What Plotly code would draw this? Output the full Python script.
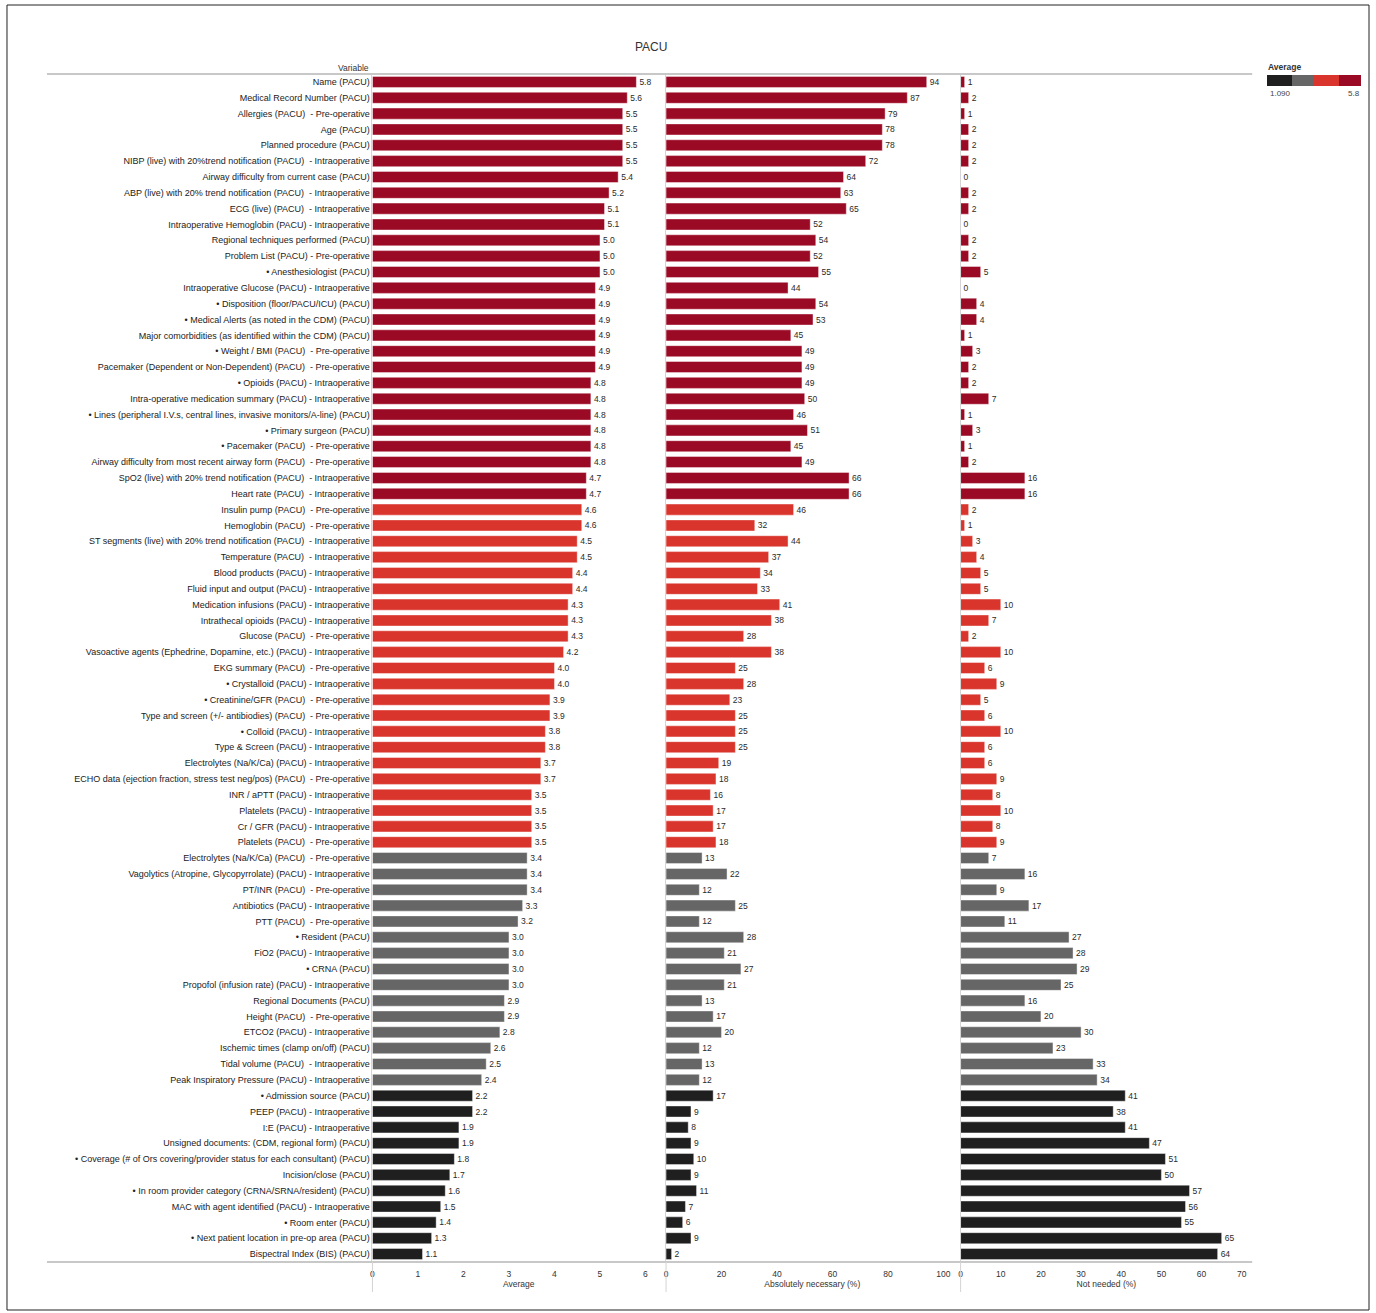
import plotly.graph_objects as go
from plotly.subplots import make_subplots

variables = [
    "Name (PACU)",
    "Medical Record Number (PACU)",
    "Allergies (PACU)  - Pre-operative",
    "Age (PACU)",
    "Planned procedure (PACU)",
    "NIBP (live) with 20%trend notification (PACU)  - Intraoperative",
    "Airway difficulty from current case (PACU)",
    "ABP (live) with 20% trend notification (PACU)  - Intraoperative",
    "ECG (live) (PACU)  - Intraoperative",
    "Intraoperative Hemoglobin (PACU) - Intraoperative",
    "Regional techniques performed (PACU)",
    "Problem List (PACU) - Pre-operative",
    "• Anesthesiologist (PACU)",
    "Intraoperative Glucose (PACU) - Intraoperative",
    "• Disposition (floor/PACU/ICU) (PACU)",
    "• Medical Alerts (as noted in the CDM) (PACU)",
    "Major comorbidities (as identified within the CDM) (PACU)",
    "• Weight / BMI (PACU)  - Pre-operative",
    "Pacemaker (Dependent or Non-Dependent) (PACU)  - Pre-operative",
    "• Opioids (PACU) - Intraoperative",
    "Intra-operative medication summary (PACU) - Intraoperative",
    "• Lines (peripheral I.V.s, central lines, invasive monitors/A-line) (PACU)",
    "• Primary surgeon (PACU)",
    "• Pacemaker (PACU)  - Pre-operative",
    "Airway difficulty from most recent airway form (PACU)  - Pre-operative",
    "SpO2 (live) with 20% trend notification (PACU)  - Intraoperative",
    "Heart rate (PACU)  - Intraoperative",
    "Insulin pump (PACU)  - Pre-operative",
    "Hemoglobin (PACU)  - Pre-operative",
    "ST segments (live) with 20% trend notification (PACU)  - Intraoperative",
    "Temperature (PACU)  - Intraoperative",
    "Blood products (PACU) - Intraoperative",
    "Fluid input and output (PACU) - Intraoperative",
    "Medication infusions (PACU) - Intraoperative",
    "Intrathecal opioids (PACU) - Intraoperative",
    "Glucose (PACU)  - Pre-operative",
    "Vasoactive agents (Ephedrine, Dopamine, etc.) (PACU) - Intraoperative",
    "EKG summary (PACU)  - Pre-operative",
    "• Crystalloid (PACU) - Intraoperative",
    "• Creatinine/GFR (PACU)  - Pre-operative",
    "Type and screen (+/- antibiodies) (PACU)  - Pre-operative",
    "• Colloid (PACU) - Intraoperative",
    "Type & Screen (PACU) - Intraoperative",
    "Electrolytes (Na/K/Ca) (PACU) - Intraoperative",
    "ECHO data (ejection fraction, stress test neg/pos) (PACU)  - Pre-operative",
    "INR / aPTT (PACU) - Intraoperative",
    "Platelets (PACU) - Intraoperative",
    "Cr / GFR (PACU) - Intraoperative",
    "Platelets (PACU)  - Pre-operative",
    "Electrolytes (Na/K/Ca) (PACU)  - Pre-operative",
    "Vagolytics (Atropine, Glycopyrrolate) (PACU) - Intraoperative",
    "PT/INR (PACU)  - Pre-operative",
    "Antibiotics (PACU) - Intraoperative",
    "PTT (PACU)  - Pre-operative",
    "• Resident (PACU)",
    "FiO2 (PACU) - Intraoperative",
    "• CRNA (PACU)",
    "Propofol (infusion rate) (PACU) - Intraoperative",
    "Regional Documents (PACU)",
    "Height (PACU)  - Pre-operative",
    "ETCO2 (PACU) - Intraoperative",
    "Ischemic times (clamp on/off) (PACU)",
    "Tidal volume (PACU)  - Intraoperative",
    "Peak Inspiratory Pressure (PACU) - Intraoperative",
    "• Admission source (PACU)",
    "PEEP (PACU) - Intraoperative",
    "I:E (PACU) - Intraoperative",
    "Unsigned documents: (CDM, regional form) (PACU)",
    "• Coverage (# of Ors covering/provider status for each consultant) (PACU)",
    "Incision/close (PACU)",
    "• In room provider category (CRNA/SRNA/resident) (PACU)",
    "MAC with agent identified (PACU) - Intraoperative",
    "• Room enter (PACU)",
    "• Next patient location in pre-op area (PACU)",
    "Bispectral Index (BIS) (PACU)",
]

average = [5.8, 5.6, 5.5, 5.5, 5.5, 5.5, 5.4, 5.2, 5.1, 5.1,
           5.0, 5.0, 5.0, 4.9, 4.9, 4.9, 4.9, 4.9, 4.9, 4.8,
           4.8, 4.8, 4.8, 4.8, 4.8, 4.7, 4.7, 4.6, 4.6, 4.5,
           4.5, 4.4, 4.4, 4.3, 4.3, 4.3, 4.2, 4.0, 4.0, 3.9,
           3.9, 3.8, 3.8, 3.7, 3.7, 3.5, 3.5, 3.5, 3.5, 3.4,
           3.4, 3.4, 3.3, 3.2, 3.0, 3.0, 3.0, 3.0, 2.9, 2.9,
           2.8, 2.6, 2.5, 2.4, 2.2, 2.2, 1.9, 1.9, 1.8, 1.7,
           1.6, 1.5, 1.4, 1.3, 1.1]

absolutely_necessary = [94, 87, 79, 78, 78, 72, 64, 63, 65, 52,
                        54, 52, 55, 44, 54, 53, 45, 49, 49, 49,
                        50, 46, 51, 45, 49, 66, 66, 46, 32, 44,
                        37, 34, 33, 41, 38, 28, 38, 25, 28, 23,
                        25, 25, 25, 19, 18, 16, 17, 17, 18, 13,
                        22, 12, 25, 12, 28, 21, 27, 21, 13, 17,
                        20, 12, 13, 12, 17, 9, 8, 9, 10, 9,
                        11, 7, 6, 9, 2]

not_needed = [1, 2, 1, 2, 2, 2, 0, 2, 2, 0,
              2, 2, 5, 0, 4, 4, 1, 3, 2, 2,
              7, 1, 3, 1, 2, 16, 16, 2, 1, 3,
              4, 5, 5, 10, 7, 2, 10, 6, 9, 5,
              6, 10, 6, 6, 9, 8, 10, 8, 9, 7,
              16, 9, 17, 11, 27, 28, 29, 25, 16, 20,
              30, 23, 33, 34, 41, 38, 41, 47, 51, 50,
              57, 56, 55, 65, 64]

legend_min = 1.09
legend_max = 5.8
legend_min_text = "1.090"
legend_max_text = "5.8"

step_colors = ["#1f1f1f", "#666666", "#d9352c", "#9b0a25"]
step_breaks = [2.35, 3.47, 4.68]

W, H = 1376, 1313


def px(x):
    return x / W


def py(y):
    return 1 - y / H


span = legend_max - legend_min
b = [(v - legend_min) / span for v in step_breaks]
colorscale = [
    [0, step_colors[0]], [b[0], step_colors[0]],
    [b[0], step_colors[1]], [b[1], step_colors[1]],
    [b[1], step_colors[2]], [b[2], step_colors[2]],
    [b[2], step_colors[3]], [1, step_colors[3]],
]

font_family = "Liberation Sans, Arial, sans-serif"

fig = make_subplots(rows=1, cols=3, shared_yaxes=True, horizontal_spacing=0)

panels = [
    (average, "%{x:.1f}", True),
    (absolutely_necessary, "%{x}", False),
    (not_needed, "%{x}", False),
]
for i, (vals, tmpl, show_scale) in enumerate(panels):
    marker = dict(
        color=average, colorscale=colorscale, cmin=legend_min, cmax=legend_max,
        line=dict(width=0.6, color="rgba(255,255,255,0.7)"),
        showscale=show_scale,
    )
    if show_scale:
        marker["colorbar"] = dict(
            orientation="h", x=px(1267), xanchor="left", y=py(86), yanchor="bottom",
            len=94, lenmode="pixels", thickness=11, thicknessmode="pixels",
            outlinewidth=0, xpad=0, ypad=0, showticklabels=False, ticks="",
        )
    fig.add_trace(go.Bar(
        x=vals, y=variables, orientation="h", marker=marker,
        texttemplate=tmpl, textposition="outside", constraintext="none",
        cliponaxis=False, textfont=dict(size=8.5, color="#2a2a2a", family=font_family),
        hoverinfo="x+y", showlegend=False,
    ), row=1, col=i + 1)

ydom = [py(1262), py(74)]
xdoms = [[px(371), px(664)], [px(665), px(958)], [px(960), px(1252)]]
xranges = [[0, 6.43], [0, 105.5], [0, 72.6]]
xticks = [[0, 1, 2, 3, 4, 5, 6], [0, 20, 40, 60, 80, 100], [0, 10, 20, 30, 40, 50, 60, 70]]
xtitles = ["Average", "Absolutely necessary (%)", "Not needed (%)"]

for i in range(3):
    ax = "xaxis" if i == 0 else f"xaxis{i + 1}"
    ay = "yaxis" if i == 0 else f"yaxis{i + 1}"
    fig.layout[ax].update(
        domain=xdoms[i], range=xranges[i], tickvals=xticks[i], showgrid=False,
        zeroline=False, showline=False, ticks="", ticklabelstandoff=5,
        tickfont=dict(size=8.5, color="#333333", family=font_family),
        title=dict(text=xtitles[i], font=dict(size=8.5, color="#333333", family=font_family), standoff=3),
    )
    fig.layout[ay].update(
        domain=ydom, showgrid=False, zeroline=False, showline=True,
        linecolor="#d4d4d4", linewidth=1, ticks="",
        categoryorder="array", categoryarray=variables, autorange="reversed",
        showticklabels=(i == 0),
        tickfont=dict(size=9, color="#222222", family=font_family),
    )

shapes = [
    dict(type="rect", xref="paper", yref="paper", x0=px(5), x1=px(1369), y0=py(1310), y1=py(5),
         line=dict(color="#222222", width=1)),
    dict(type="line", xref="paper", yref="paper", x0=px(45), x1=px(1252), y0=py(74), y1=py(74),
         line=dict(color="#c8c8c8", width=2)),
    dict(type="line", xref="paper", yref="paper", x0=px(45), x1=px(1252), y0=py(1262), y1=py(1262),
         line=dict(color="#c8c8c8", width=2)),
]
for xv in [371, 665, 960]:
    shapes.append(dict(type="line", xref="paper", yref="paper", x0=px(xv), x1=px(xv),
                       y0=py(1292), y1=py(1262), line=dict(color="#d4d4d4", width=1)))


def note(text, x, y, xanchor="center", size=8.5, color="#333333"):
    return dict(text=text, x=px(x), y=py(y), xref="paper", yref="paper", showarrow=False,
                xanchor=xanchor, yanchor="middle",
                font=dict(size=size, color=color, family=font_family))


annotations = [
    note("PACU", 650, 47, size=12),
    note("Variable", 370, 68, xanchor="right"),
    note("<b>Average</b>", 1266, 67, xanchor="left"),
    note(legend_min_text, 1268, 93, xanchor="left", size=8, color="#444444"),
    note(legend_max_text, 1362, 93, xanchor="right", size=8, color="#444444"),
]

fig.update_layout(
    width=W, height=H, margin=dict(l=0, r=0, t=0, b=0),
    paper_bgcolor="white", plot_bgcolor="white",
    bargap=0.3, shapes=shapes, annotations=annotations,
    font=dict(family=font_family),
)

fig.write_html(
    "out.html",
    config={"displayModeBar": False},
    post_script="document.body.style.margin='0';document.body.style.overflow='hidden';",
)
